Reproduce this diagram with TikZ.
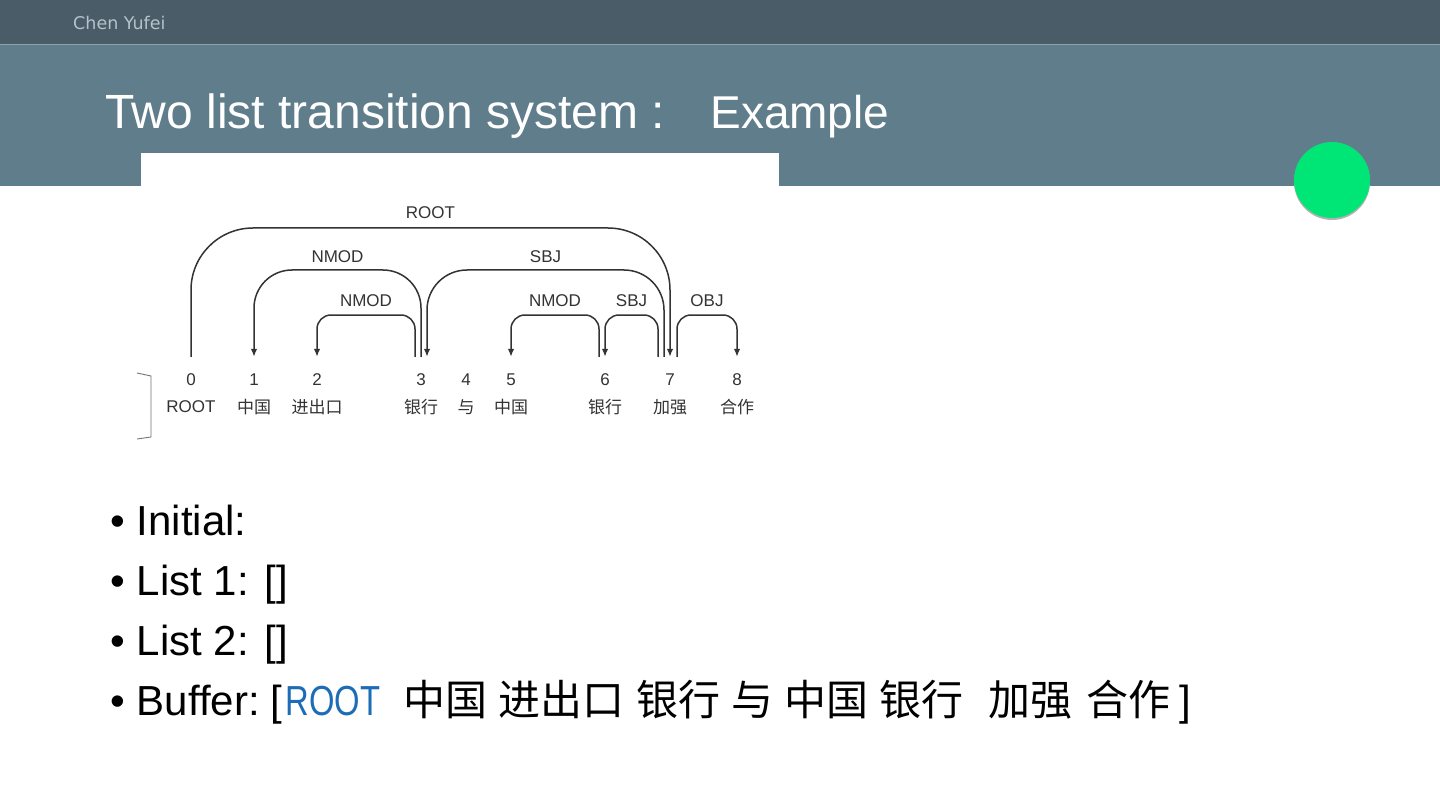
\documentclass[tikz,border=0pt]{standalone}
\usepackage{fontspec}
\usepackage{graphicx}
\setmainfont{Liberation Sans}
\newfontfamily\cjk{Noto Sans CJK SC}
\newfontfamily\dvs{DejaVu Sans}
\usetikzlibrary{arrows.meta}
\definecolor{topbar}{HTML}{4A5C68}
\definecolor{titleband}{HTML}{607D8B}
\definecolor{sepline}{HTML}{8DA3AE}
\definecolor{greenc}{HTML}{00E676}
\definecolor{rootblue}{HTML}{1C6DB5}
\definecolor{arcgray}{HTML}{333333}
\definecolor{headtext}{HTML}{B4C3CA}
\begin{document}
\begin{tikzpicture}[x=1pt,y=-1pt,
  num/.style={inner sep=0pt,text height=12pt,text depth=0pt,font=\fontsize{17}{20}\selectfont,text=arcgray},
  word/.style={inner sep=0pt,font=\fontsize{17}{20}\selectfont,text=arcgray},
  cword/.style={inner sep=0pt,font=\fontsize{17}{20}\selectfont\cjk,text=arcgray},
  dep/.style={draw=arcgray,line width=1.5pt,-{Latex[length=8pt,width=6.5pt]}},
  deplabel/.style={midway,inner sep=0pt,text height=12pt,text depth=0pt,font=\fontsize{17}{20}\selectfont,text=arcgray},
  body/.style={anchor=base west,inner sep=0pt,font=\fontsize{42}{50}\selectfont,text=black}]
\useasboundingbox (0,0) rectangle (1440,810);
\fill[white] (0,0) rectangle (1440,810);
% header bands
\fill[topbar] (0,0) rectangle (1440,44);
\fill[titleband] (0,44) rectangle (1440,186);
\draw[sepline,line width=1pt] (0,44.5) -- (1440,44.5);
\node[anchor=west,inner sep=0pt,text=headtext,font=\fontsize{17.5}{20}\selectfont\dvs] (author) at (73,23) {Chen Yufei};
\node[anchor=base west,inner sep=0pt,text=white,font=\fontsize{48}{56}\selectfont] (title) at (105,129) {Two list transition system :\hspace{45pt}{\fontsize{46}{56}\selectfont Example}};
% picture area
\fill[white] (141,153) rectangle (779,450);
% green circle
\fill[black!30] (1332,182) circle (38);
\fill[greenc] (1332,180) circle (38);
% bracket
\draw[black!55,line width=0.9pt] (137,373) -- (151,376) -- (151,437) -- (137,439);
% tokens
\node[num] (n0) at (191,379) {0};
\node[num] (n1) at (254,379) {1};
\node[num] (n2) at (317,379) {2};
\node[num] (n3) at (421,379) {3};
\node[num] (n4) at (466,379) {4};
\node[num] (n5) at (511,379) {5};
\node[num] (n6) at (605,379) {6};
\node[num] (n7) at (670,379) {7};
\node[num] (n8) at (737,379) {8};
\node[word] (w0) at (191,407) {ROOT};
\node[cword] (w1) at (254,407) {中国};
\node[cword] (w2) at (317,407) {进出口};
\node[cword] (w3) at (421,407) {银行};
\node[cword] (w4) at (466,407) {与};
\node[cword] (w5) at (511,407) {中国};
\node[cword] (w6) at (605,407) {银行};
\node[cword] (w7) at (670,407) {加强};
\node[cword] (w8) at (737,407) {合作};
% arcs
\draw[dep,rounded corners=62] ([yshift=16pt]n0.north) -- (n0.north |- 0,228) -- node[deplabel,above=9pt]{ROOT} (n7.north |- 0,228) -- ([yshift=16pt]n7.north);
\draw[dep,rounded corners=38] ([yshift=16pt]n3.north) -- (n3.north |- 0,270) -- node[deplabel,above=7pt]{NMOD} (n1.north |- 0,270) -- ([yshift=16pt]n1.north);
\draw[dep,rounded corners=40] ([xshift=-6pt,yshift=16pt]n7.north) -- ([xshift=-6pt]n7.north |- 0,270) -- node[deplabel,above=7pt]{SBJ} ([xshift=6pt]n3.north |- 0,270) -- ([xshift=6pt,yshift=16pt]n3.north);
\draw[dep,rounded corners=14] ([xshift=-6pt,yshift=16pt]n3.north) -- ([xshift=-6pt]n3.north |- 0,315) -- node[deplabel,above=8pt]{NMOD} (n2.north |- 0,315) -- ([yshift=16pt]n2.north);
\draw[dep,rounded corners=14] ([xshift=-6pt,yshift=16pt]n6.north) -- ([xshift=-6pt]n6.north |- 0,315) -- node[deplabel,above=8pt]{NMOD} (n5.north |- 0,315) -- ([yshift=16pt]n5.north);
\draw[dep,rounded corners=14] ([xshift=-12pt,yshift=16pt]n7.north) -- ([xshift=-12pt]n7.north |- 0,315) -- node[deplabel,above=8pt]{SBJ} (n6.north |- 0,315) -- ([yshift=16pt]n6.north);
\draw[dep,rounded corners=14] ([xshift=7pt,yshift=16pt]n7.north) -- ([xshift=7pt]n7.north |- 0,315) -- node[deplabel,above=8pt]{OBJ} (n8.north |- 0,315) -- ([yshift=16pt]n8.north);
% bullets
\node[body] (b1) at (110,535) {•\hspace{12pt}Initial:};
\node[body] (b2) at (110,595) {•\hspace{12pt}List 1: []};
\node[body] (b3) at (110,655) {•\hspace{12pt}List 2: []};
\node[body] (b4) at (110,715) {•\hspace{12pt}Buffer:\hspace{11pt}[\makebox[121pt][l]{\hspace{3pt}\color{rootblue}\scalebox{0.78}[1]{ROOT}}{\cjk 中国\hspace{11pt}进出口\hspace{12pt}银行\hspace{11pt}与\hspace{11pt}中国\hspace{11pt}银行\hspace{25pt}加强\hspace{14pt}合作}\hspace{9pt}]};
\end{tikzpicture}
\end{document}
